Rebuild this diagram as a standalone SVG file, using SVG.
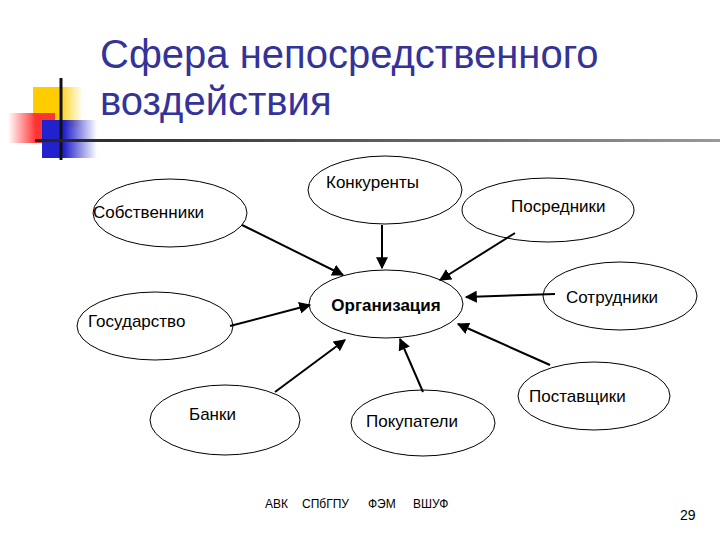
<svg xmlns="http://www.w3.org/2000/svg" width="720" height="540" viewBox="0 0 720 540">
<defs>
<linearGradient id="gy" x1="0" x2="1"><stop offset="0.5" stop-color="#ffcc00"/><stop offset="1" stop-color="#ffcc00" stop-opacity="0"/></linearGradient>
<linearGradient id="gr" x1="1" x2="0"><stop offset="0.4" stop-color="#ff3333"/><stop offset="1" stop-color="#ff3333" stop-opacity="0"/></linearGradient>
<linearGradient id="gb" x1="0" x2="1"><stop offset="0.4" stop-color="#2222cc"/><stop offset="1" stop-color="#2222cc" stop-opacity="0"/></linearGradient>
<linearGradient id="gl" x1="0" x2="1"><stop offset="0" stop-color="#222"/><stop offset="1" stop-color="#999"/></linearGradient>
<marker id="ar" viewBox="0 0 10 10" refX="9" refY="5" markerWidth="6" markerHeight="6" orient="auto"><path d="M0,0 L10,5 L0,10 z" fill="#000"/></marker>
<style>
.n{fill:#fff;stroke:#000;stroke-width:1}
.t{font-family:"Liberation Sans",Arial,sans-serif;font-size:17px;fill:#000}
.c line{stroke:#000;stroke-width:2;marker-end:url(#ar)}
</style>
</defs>
<g id="deco">
<rect x="33" y="87" width="50" height="40" fill="url(#gy)"/>
<rect x="8" y="113" width="47" height="30" fill="url(#gr)"/>
<rect x="42" y="120" width="55" height="38" fill="url(#gb)"/>
<line x1="61" y1="78" x2="61" y2="160" stroke="#111" stroke-width="3"/>
<rect x="35" y="139" width="685" height="3" fill="url(#gl)"/>
</g>
<g id="title" font-family="Liberation Sans,Arial,sans-serif" font-size="40" fill="#333399">
<text x="100" y="68">Сфера непосредственного</text>
<text x="100" y="115">воздействия</text>
</g>
<g id="n-konk"><ellipse class="n" cx="385" cy="190" rx="77" ry="34"/><text class="t" x="326" y="188">Конкуренты</text></g>
<g id="n-sobst"><ellipse class="n" cx="170" cy="213" rx="77" ry="34"/><text class="t" x="93" y="218">Собственники</text></g>
<g id="n-posr"><ellipse class="n" cx="548" cy="210" rx="86" ry="32"/><text class="t" x="511" y="212">Посредники</text></g>
<g id="n-org"><ellipse class="n" cx="386" cy="304" rx="77" ry="34"/><text class="t" x="386" y="311" text-anchor="middle" font-weight="bold" font-size="19">Организация</text></g>
<g id="n-sotr"><ellipse class="n" cx="620" cy="296" rx="77" ry="34"/><text class="t" x="566" y="303">Сотрудники</text></g>
<g id="n-gos"><ellipse class="n" cx="155" cy="326" rx="78" ry="34"/><text class="t" x="88" y="327">Государство</text></g>
<g id="n-bank"><ellipse class="n" cx="225" cy="420" rx="75" ry="35"/><text class="t" x="189" y="420">Банки</text></g>
<g id="n-pok"><ellipse class="n" cx="423" cy="423" rx="72" ry="33"/><text class="t" x="366" y="427">Покупатели</text></g>
<g id="n-post"><ellipse class="n" cx="594" cy="396" rx="76" ry="34"/><text class="t" x="529" y="402">Поставщики</text></g>
<g id="connectors" class="c">
<line x1="242" y1="225" x2="343" y2="275"/>
<line x1="382" y1="225" x2="382" y2="268"/>
<line x1="515" y1="233" x2="440" y2="280"/>
<line x1="555" y1="294" x2="466" y2="297"/>
<line x1="230" y1="326" x2="310" y2="305"/>
<line x1="275" y1="392" x2="345" y2="340"/>
<line x1="423" y1="392" x2="400" y2="339"/>
<line x1="550" y1="365" x2="458" y2="324"/>
</g>
<g id="footer" font-family="Liberation Sans,Arial,sans-serif" font-size="12" fill="#000">
<text x="265" y="508">АВК</text><text x="302" y="508">СПбГПУ</text><text x="368" y="508">ФЭМ</text><text x="413" y="508">ВШУФ</text>
<text x="680" y="520" font-size="14">29</text>
</g>
</svg>
